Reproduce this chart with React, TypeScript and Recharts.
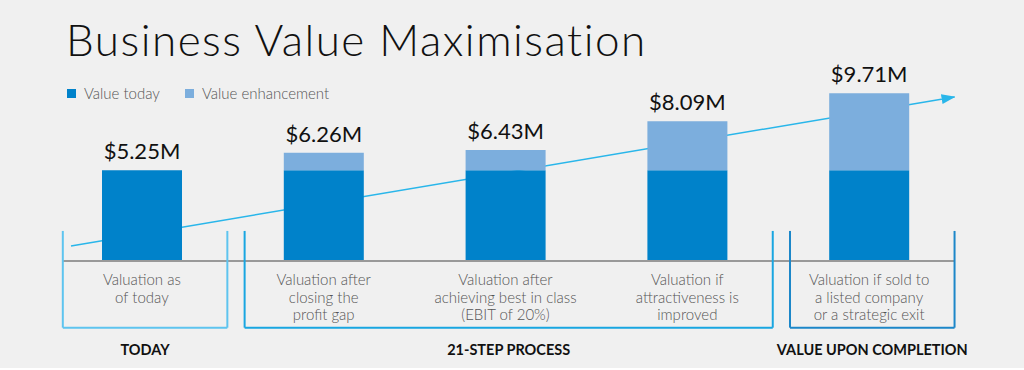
import React from "react";
import { ComposedChart, Bar, Line, XAxis, YAxis, LabelList, Legend, ReferenceLine } from "recharts";

const categories = [
  "Valuation as\nof today",
  "Valuation after\nclosing the\nprofit gap",
  "Valuation after\nachieving best in class\n(EBIT of 20%)",
  "Valuation if\nattractiveness is\nimproved",
  "Valuation if sold to\na listed company\nor a strategic exit",
];
const valueToday = [5.25, 5.25, 5.25, 5.25, 5.25];
const totalValue = [5.25, 6.26, 6.43, 8.09, 9.71];

// groups span category indexes [from, to)
const groupLabels = ["TODAY", "21-STEP PROCESS", "VALUE UPON COMPLETION"];
const groupFrom = [0, 1, 4];
const groupTo = [1, 4, 5];
const groupColors = ["#5ec4ef", "#19a6e1", "#1c87c9"];

// trend arrow, in (category index, $M) units
const trendPos = [0.11, 4.97];
const trendValue = [0.87, 9.5];

const FONT = "Lato, 'Open Sans', sans-serif";
const DARK = "#0082ca";
const LIGHT = "#7caedd";
const ARROW = "#29b6ea";
const seriesOrder = ["today", "enhance"];

const W = 1024;
const H = 370;
const MARGIN = { top: 71, right: 64, left: 51, bottom: 0 };
const AXIS_H = 109;

const data = categories.map((name, i) => ({
  name,
  pos: i + 0.5,
  today: valueToday[i],
  enhance: +(totalValue[i] - valueToday[i]).toFixed(2),
  label: `$${totalValue[i].toFixed(2)}M`,
}));

const trendData = trendPos.map((pos, i) => ({ pos, trend: trendValue[i] }));

const CategoryTick = (props: any) => {
  const { x, y, payload } = props;
  const lines = String(payload.value).split("\n");
  return (
    <text x={x} y={y} textAnchor="middle" fill="#555" fontSize={15} fontWeight={300} fontFamily={FONT}>
      {lines.map((l, i) => (
        <tspan key={i} x={x} dy={i === 0 ? 24 : 17.5}>
          {l}
        </tspan>
      ))}
    </text>
  );
};

// total label sits at the top of the whole stack
const TotalLabel = (props: any) => {
  const { x, y, width, height, index, value } = props;
  const d = data[index];
  const top = y - (height * d.enhance) / d.today;
  return (
    <text x={x + width / 2} y={top - 11} textAnchor="middle" fill="#111" fontSize={22} fontFamily={FONT}>
      {value}
    </text>
  );
};

const LegendContent = (props: any) => {
  const payload = (props.payload || [])
    .filter((p: any) => seriesOrder.includes(p.dataKey))
    .sort((a: any, b: any) => seriesOrder.indexOf(a.dataKey) - seriesOrder.indexOf(b.dataKey));
  return (
    <div style={{ display: "flex", fontFamily: FONT, fontSize: 15, fontWeight: 300, color: "#555", lineHeight: "18px" }}>
      {payload.map((p: any) => (
        <div key={p.value} style={{ display: "flex", alignItems: "center", marginRight: 25 }}>
          <span style={{ width: 9, height: 9, background: p.color, marginRight: 8, display: "inline-block" }} />
          <span>{p.value}</span>
        </div>
      ))}
    </div>
  );
};

const PAD_L = 0.065;
const PAD_R = 0.03;
const BR_TOP = 1.74;
const BR_BOTTOM = -3.86;

const layer: React.CSSProperties = { position: "absolute", left: 0, top: 0 };

// trend arrow sits behind the bars, so it gets its own layer with the same plot area
function TrendLayer() {
  return (
    <ComposedChart width={W} height={H} data={trendData} margin={{ ...MARGIN, bottom: AXIS_H }}>
      <defs>
        <marker id="trendArrow" markerWidth={14} markerHeight={10} refX={13} refY={5} orient="auto" markerUnits="userSpaceOnUse">
          <path d="M0,0 L14,5 L0,10 z" fill={ARROW} />
        </marker>
      </defs>
      <XAxis dataKey="pos" type="number" domain={[0, 5]} allowDataOverflow hide />
      <YAxis hide domain={[0, 11]} allowDataOverflow />
      <Line
        dataKey="trend"
        type="linear"
        stroke={ARROW}
        strokeWidth={1.5}
        dot={false}
        activeDot={false}
        markerEnd="url(#trendArrow)"
        isAnimationActive={false}
      />
    </ComposedChart>
  );
}

export default function App() {
  return (
    <div style={{ position: "absolute", left: 0, top: 0, width: W, height: 368, background: "#f0f0f0", overflow: "visible" }}>
      <div style={layer}>
        <TrendLayer />
      </div>
      <div style={layer}>
        <ComposedChart width={W} height={H} data={data} margin={MARGIN}>
          <XAxis
            dataKey="name"
            axisLine={false}
            tickLine={false}
            tickSize={0}
            tickMargin={0}
            interval={0}
            height={AXIS_H}
            tick={<CategoryTick />}
          />
          <XAxis xAxisId="t" dataKey="pos" type="number" scale="linear" domain={[0, 5]} allowDataOverflow hide />
          <YAxis hide domain={[0, 11]} allowDataOverflow />
          <Legend
            layout="vertical"
            align="center"
            verticalAlign="middle"
            wrapperStyle={{ top: 84, left: 67, width: 420 }}
            content={<LegendContent />}
          />
          <Bar dataKey="today" name="Value today" stackId="v" fill={DARK} barSize={80} isAnimationActive={false}>
            <LabelList dataKey="label" content={<TotalLabel />} />
          </Bar>
          <Bar dataKey="enhance" name="Value enhancement" stackId="v" fill={LIGHT} barSize={80} isAnimationActive={false} />
          <ReferenceLine
            xAxisId="t"
            ifOverflow="visible"
            segment={[{ x: PAD_L, y: 0 }, { x: 5 - PAD_R, y: 0 }]}
            stroke="#999"
            strokeWidth={2}
          />
          {groupLabels.map((g, i) => {
            const x0 = groupFrom[i] + PAD_L;
            const x1 = groupTo[i] - PAD_R;
            const c = groupColors[i];
            return (
              <React.Fragment key={g}>
                <ReferenceLine xAxisId="t" ifOverflow="visible" segment={[{ x: x0, y: BR_TOP }, { x: x0, y: BR_BOTTOM }]} stroke={c} strokeWidth={2} />
                <ReferenceLine xAxisId="t" ifOverflow="visible" segment={[{ x: x1, y: BR_TOP }, { x: x1, y: BR_BOTTOM }]} stroke={c} strokeWidth={2} />
                <ReferenceLine
                  xAxisId="t"
                  ifOverflow="visible"
                  segment={[{ x: x0, y: BR_BOTTOM }, { x: x1, y: BR_BOTTOM }]}
                  stroke={c}
                  strokeWidth={2}
                  label={{ value: g, position: "bottom", offset: 17, fill: "#111", fontSize: 14.5, fontWeight: 700, fontFamily: FONT }}
                />
              </React.Fragment>
            );
          })}
        </ComposedChart>
      </div>
      <div
        style={{
          position: "absolute",
          left: 66,
          top: 17,
          fontFamily: FONT,
          fontSize: 44,
          fontWeight: 300,
          letterSpacing: 1.5,
          lineHeight: "44px",
          color: "#111",
          whiteSpace: "nowrap",
        }}
      >
        Business Value Maximisation
      </div>
    </div>
  );
}
